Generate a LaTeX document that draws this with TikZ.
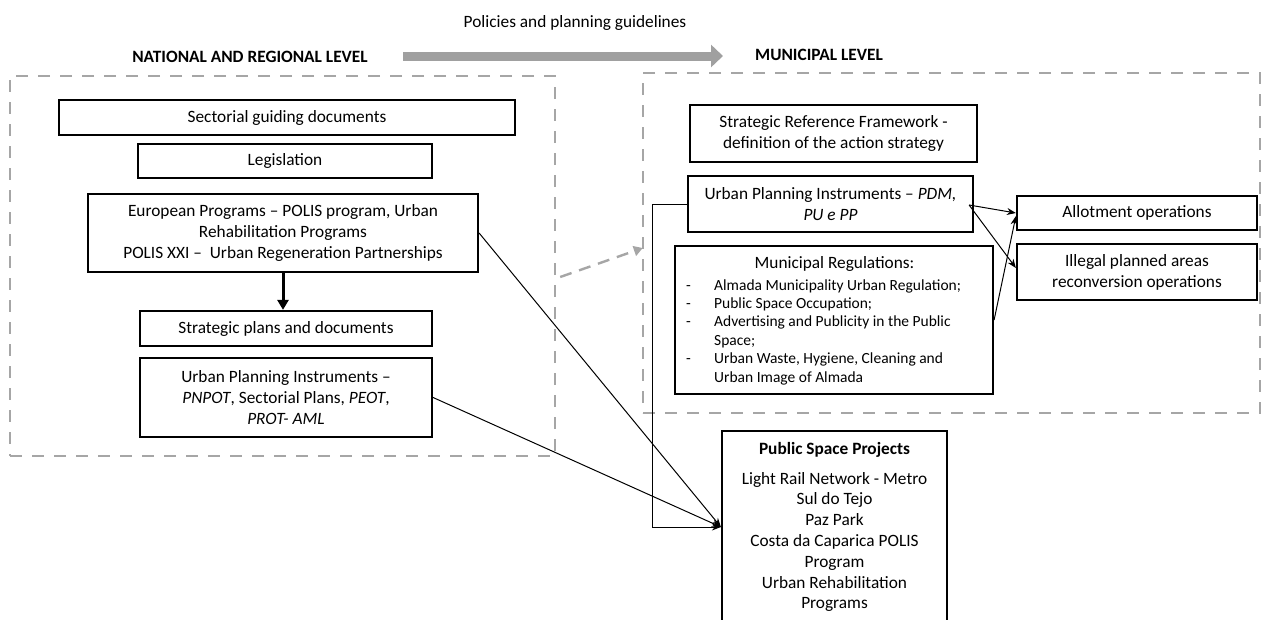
\documentclass[tikz,border=0pt]{standalone}
\usepackage{fontspec}
\setmainfont{Carlito}
\usetikzlibrary{arrows.meta,calc}
\definecolor{frame}{HTML}{A6A6A6}
\definecolor{bigarrowc}{HTML}{A0A0A0}
\begin{document}
\begin{tikzpicture}[x=1pt,y=-1pt,
  txt/.style={font=\fontsize{17.3}{20.8}\selectfont,inner sep=0pt},
  box/.style={draw=black,line width=2.2pt,align=center,inner sep=0pt,fill=white,
    font=\fontsize{17.3}{20.8}\selectfont},
  lvl/.style={font=\fontsize{17.3}{20.8}\selectfont\bfseries,inner sep=0pt},
  grp/.style={draw=frame,line width=2.4pt,dash pattern=on 12pt off 10pt,inner sep=0pt},
  listtxt/.style={font=\fontsize{15.5}{18.5}\selectfont,inner sep=0pt,anchor=base west},
  conn/.style={draw=black,line width=1pt,-{Stealth[length=9pt,width=7pt]}},
  thickarrow/.style={draw=black,line width=3pt,-{Triangle[length=10pt,width=11pt]}},
  bigarrow/.style={draw=bigarrowc,line width=9pt,-{Triangle[length=12pt,width=22pt]}},
  dasharrow/.style={draw=frame,line width=2.4pt,dash pattern=on 12pt off 8pt,
    -{Triangle[length=9pt,width=10pt]}},
]
\useasboundingbox (0,0) rectangle (1262,619);
\clip (0,0) rectangle (1262,619);

% group frames
\node[grp,minimum width=545,minimum height=380] (natframe) at (282.5,266) {};
\node[grp,minimum width=617,minimum height=340] (munframe) at (951.5,243) {};

% headings
\node[txt] (policies) at (575,23) {Policies and planning guidelines};
\node[lvl] (nat) at (250,57) {NATIONAL AND REGIONAL LEVEL};
\node[lvl] (mun) at (819,55) {MUNICIPAL LEVEL};
\coordinate (ga1) at (403,56);
\coordinate (ga2) at (723,56);
\draw[bigarrow] (ga1) -- (ga2);

% national / regional boxes
\node[box,minimum width=456,minimum height=35] (sgd) at (287,117.5) {Sectorial guiding documents};
\node[box,minimum width=294,minimum height=34] (leg) at (285,161) {Legislation};
\node[box,minimum width=390,minimum height=78] (eur) at (283,233)
  {European Programs – POLIS program, Urban\\Rehabilitation Programs\\POLIS XXI –\ \ Urban Regeneration Partnerships};
\node[box,minimum width=292,minimum height=35] (spd) at (286,328.5) {Strategic plans and documents};
\node[box,minimum width=292,minimum height=79] (upin) at (286,397.5)
  {Urban Planning Instruments –\\\textit{PNPOT}, Sectorial Plans, \textit{PEOT},\\\textit{PROT- AML}};

% municipal boxes
\node[box,minimum width=287,minimum height=57] (srf) at (833.5,133.5)
  {Strategic Reference Framework -\\definition of the action strategy};
\node[box,minimum width=285,minimum height=56] (pdm) at (830.5,204)
  {Urban Planning Instruments – \textit{PDM,}\\\textit{PU e PP}};
\node[box,minimum width=318,minimum height=148] (mr) at (834,320) {};
\node[txt,anchor=base] (mrtitle) at (834.5,268) {Municipal Regulations:};
\node[listtxt] (b1) at (686,290) {-};
\node[listtxt] (l1) at (714,290) {Almada Municipality Urban Regulation;};
\node[listtxt] (b2) at (686,308) {-};
\node[listtxt] (l2) at (714,308) {Public Space Occupation;};
\node[listtxt] (b3) at (686,326) {-};
\node[listtxt] (l3) at (714,326) {Advertising and Publicity in the Public};
\node[listtxt] (l3b) at (714,345) {Space;};
\node[listtxt] (b4) at (686,363) {-};
\node[listtxt] (l4) at (714,363) {Urban Waste, Hygiene, Cleaning and};
\node[listtxt] (l4b) at (714,382) {Urban Image of Almada};

\node[box,minimum width=240,minimum height=34] (allot) at (1137,213) {Allotment operations};
\node[box,minimum width=240,minimum height=56] (illeg) at (1137,272)
  {Illegal planned areas\\reconversion operations};

\node[box,anchor=north,minimum width=225,inner ysep=11pt] (psp) at (834.5,430)
  {\textbf{Public Space Projects}\\[9pt]Light Rail Network - Metro\\Sul do Tejo\\Paz Park\\Costa da Caparica POLIS\\Program\\Urban Rehabilitation\\Programs\\[20pt]~};

% connectors
\coordinate (pin) at ($(psp.north west)+(0,97)$);
\coordinate (bend) at ($(pdm.west)+(-34,0)$);
\draw[thickarrow] (eur.south) -- (eur.south |- spd.north);
\draw[conn] (eur.east) -- (pin);
\draw[conn] (upin.east) -- (pin);
\draw[conn] (pdm.west) -- (bend) |- (pin);
\draw[conn] ($(pdm.east)+(-5,1)$) -- (allot.west);
\draw[conn] ($(pdm.east)+(-5,1)$) -- ($(illeg.west)+(0,-4)$);
\draw[conn] (mr.east) -- ($(allot.west)+(0,3)$);
\draw[dasharrow] ($(natframe.east)+(4,11)$) -- ($(munframe.west)+(1,5)$);
\end{tikzpicture}
\end{document}
